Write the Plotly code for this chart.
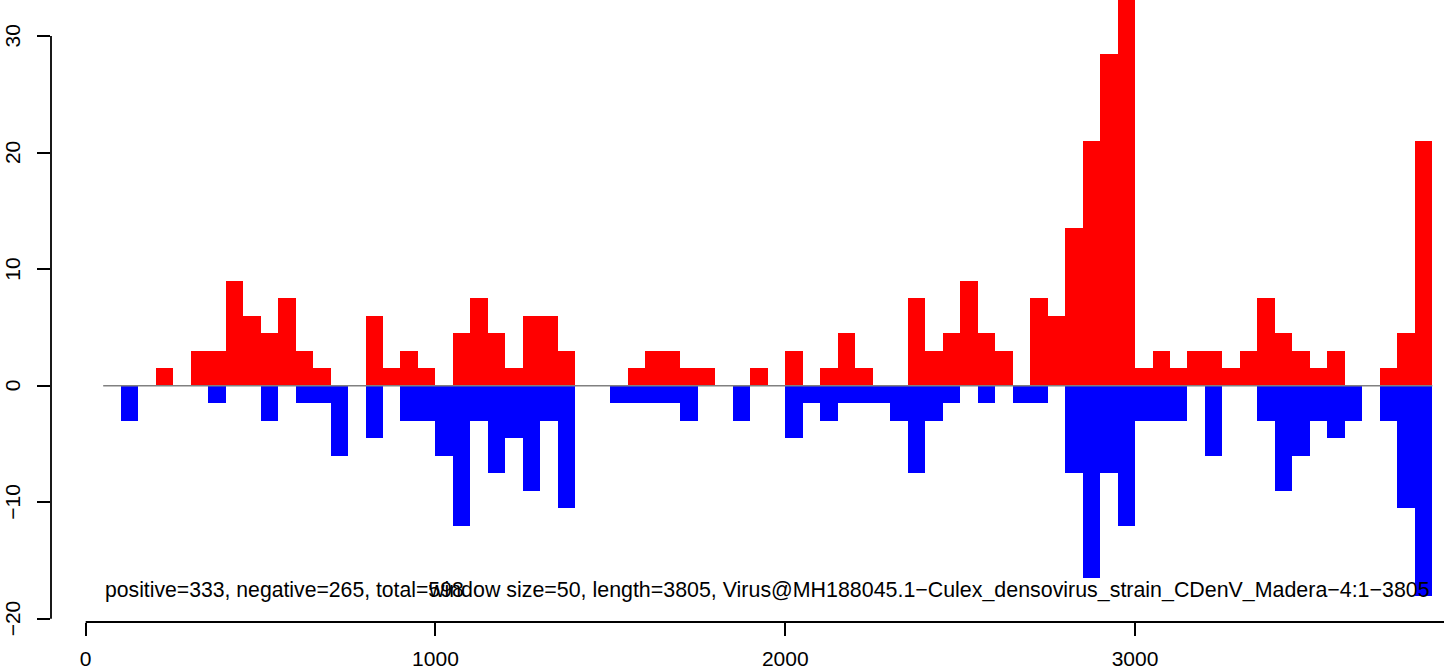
import plotly.graph_objects as go

# window starts (bp), window size 50
window_size = 50
window_index = list(range(1, 77))  # windows 50..3800 (start positions = 50*k)

positive = [0, 0, 0, 1.5, 0, 3, 3, 9, 6, 4.5,
            7.5, 3, 1.5, 0, 0, 6, 1.5, 3, 1.5, 0,
            4.5, 7.5, 4.5, 1.5, 6, 6, 3, 0, 0, 0,
            1.5, 3, 3, 1.5, 1.5, 0, 0, 1.5, 0, 3,
            0, 1.5, 4.5, 1.5, 0, 0, 7.5, 3, 4.5, 9,
            4.5, 3, 0, 7.5, 6, 13.5, 21, 28.5, 37.5, 1.5,
            3, 1.5, 3, 3, 1.5, 3, 7.5, 4.5, 3, 1.5,
            3, 0, 0, 1.5, 4.5, 21]

negative = [0, -3, 0, 0, 0, 0, -1.5, 0, 0, -3,
            0, -1.5, -1.5, -6, 0, -4.5, 0, -3, -3, -6,
            -12, -3, -7.5, -4.5, -9, -3, -10.5, 0, 0, -1.5,
            -1.5, -1.5, -1.5, -3, 0, 0, -3, 0, 0, -4.5,
            -1.5, -3, -1.5, -1.5, -1.5, -3, -7.5, -3, -1.5, 0,
            -1.5, 0, -1.5, -1.5, 0, -7.5, -16.5, -7.5, -12, -3,
            -3, -3, 0, -6, 0, 0, -3, -9, -6, -3,
            -4.5, -3, 0, -3, -10.5, -18]

x_ticks = [0, 1000, 2000, 3000]
y_ticks = [-20, -10, 0, 10, 20, 30]

label_left = "positive=333, negative=265, total=598"
label_right = ("window size=50, length=3805, "
               "Virus@MH188045.1\u2212Culex_densovirus_strain_CDenV_Madera\u22124:1\u22123805")

starts = [window_size * k for k in window_index]
centers = [s + window_size / 2 for s in starts]
x_min = starts[0]
x_max = starts[-1] + window_size

FONT = "Liberation Sans, Arial, Helvetica, sans-serif"

fig = go.Figure()

# grey baseline
fig.add_trace(go.Scatter(x=[x_min, x_max], y=[0, 0], mode="lines",
                         line=dict(color="#808080", width=1.5),
                         hoverinfo="skip", showlegend=False))

fig.add_trace(go.Bar(x=centers, y=positive, width=window_size,
                     marker=dict(color="#FF0000", line=dict(width=0)),
                     showlegend=False))
fig.add_trace(go.Bar(x=centers, y=negative, width=window_size,
                     marker=dict(color="#0000FF", line=dict(width=0)),
                     showlegend=False))

def fmt(v):
    return str(v).replace("-", "\u2212")

fig.update_layout(
    width=1444, height=667,
    margin=dict(l=51, r=0, t=0, b=45, pad=0, autoexpand=False),
    paper_bgcolor="white", plot_bgcolor="white",
    barmode="overlay", bargap=0,
    font=dict(family=FONT, size=21, color="black"),
    xaxis=dict(range=[-99.2, 3883.4], tickvals=x_ticks,
               ticktext=[fmt(v) for v in x_ticks],
               ticks="outside", ticklen=12.5, tickwidth=1.8, tickcolor="black",
               showline=False, showgrid=False, zeroline=False,
               automargin=False, ticklabelstandoff=5,
               tickfont=dict(family=FONT, size=21, color="black")),
    yaxis=dict(range=[-20.27, 33.09], tickvals=y_ticks,
               showticklabels=False,
               ticks="outside", ticklen=13, tickwidth=1.8, tickcolor="black",
               automargin=False,
               showline=False, showgrid=False, zeroline=False),
)

# R-style axis lines spanning tick range only
fig.add_shape(type="line", xref="paper", yref="y", x0=0, x1=0,
              y0=y_ticks[0], y1=y_ticks[-1], line=dict(color="black", width=1.8))
fig.add_shape(type="line", xref="x", yref="paper", x0=x_ticks[0], x1=4000,
              y0=0, y1=0, line=dict(color="black", width=1.8))

# rotated y tick labels (R style, las=0)
for v in y_ticks:
    fig.add_annotation(x=0, xref="paper", y=v, yref="y", text=fmt(v),
                       showarrow=False, textangle=-90, xanchor="center",
                       yanchor="middle", xshift=-38.5,
                       font=dict(family=FONT, size=21, color="black"))

fig.add_annotation(x=x_min, y=-17.5, xref="x", yref="y", text=label_left,
                   showarrow=False, xanchor="left", yanchor="middle",
                   font=dict(family=FONT, size=21.2, color="black"))
fig.add_annotation(x=x_max, y=-17.5, xref="x", yref="y", text=label_right,
                   showarrow=False, xanchor="right", yanchor="middle",
                   font=dict(family=FONT, size=21.4, color="black"))

fig.write_html("out.html",
               config={"displayModeBar": False},
               post_script="document.body.style.margin='0px';"
                           "document.body.style.overflow='hidden';")
